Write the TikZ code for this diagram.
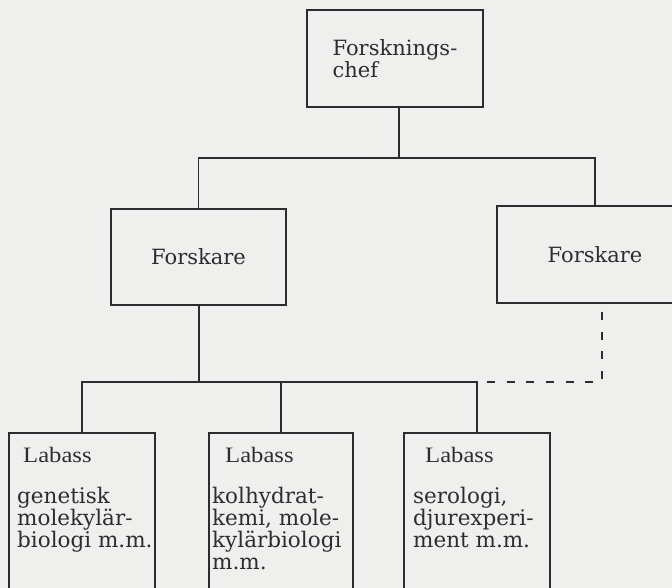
\documentclass[tikz,border=0pt]{standalone}
\usepackage{xcolor}
\usepackage{fontspec}
\setmainfont{DejaVu Serif}
\newfontfamily\labfont[FakeStretch=1.12]{Liberation Serif}
\usepackage{tikz}

\definecolor{paper}{RGB}{239,239,237}
\definecolor{ink}{RGB}{48,44,46}

\begin{document}
\begin{tikzpicture}[x=1pt,y=-1pt,
    unit/.style={draw=ink,text=ink,line width=1.8pt,shape=rectangle,inner sep=0pt,font=\fontsize{21}{22}\selectfont},
    lab/.style={draw=ink,line width=1.8pt,shape=rectangle,minimum height=220,inner sep=0pt},
    labhead/.style={text=ink,inner sep=0pt,anchor=base west,font=\labfont\fontsize{22}{22}\selectfont},
    labtext/.style={text=ink,inner sep=0pt,anchor=north west,align=left,font=\fontsize{21.5}{22}\selectfont},
    link/.style={draw=ink,line width=1.8pt},
    loose/.style={draw=ink,line width=1.8pt,dash pattern=on 8pt off 11.7pt,dash phase=11.7pt}]
                    \fill[paper] (0,0) rectangle (672,588);
                    \clip (0,0) rectangle (672,588);
                    \node[unit,align=left,minimum width=176,minimum height=97] (chef) at (395,58.5) {Forsknings-\\chef};
                    \node[unit,minimum width=175,minimum height=96] (FL) at (198.5,257) {Forskare};
                    \node[unit,minimum width=196,minimum height=97] (FR) at (595,254.5) {Forskare};
                    \node[lab,minimum width=146] (L1) at (82,543) {};
                    \node[lab,minimum width=144] (L2) at (281,543) {};
                    \node[lab,minimum width=146] (L3) at (477,543) {};

                    \node[labhead] (H1) at (23,462) {Labass};
                    \node[labhead] (H2) at (225,462) {Labass};
                    \node[labhead] (H3) at (425,462) {Labass};
                    \node[labtext] (B1) at (17,487) {genetisk\\molekylär-\\biologi m.m.};
                    \node[labtext] (B2) at (212,487) {kolhydrat-\\kemi, mole-\\kylärbiologi\\m.m.};
                    \node[labtext] (B3) at (413,487) {serologi,\\djurexperi-\\ment m.m.};

                    \coordinate (tbus) at (399,158);
                    \coordinate (lbus) at (199,382);
                    \coordinate (dcorner) at (602,382);

                    \draw[link] (chef.south -| tbus) -- (tbus);
                    \draw[link] (FL.north) |- (tbus);
                    \draw[link] (FR.north) |- (tbus);
                    \draw[link] (FL.south -| lbus) -- (lbus);
                    \draw[link] (L1.north) |- (lbus);
                    \draw[link] (L3.north) |- (lbus);
                    \draw[link] (L2.north) -- (L2.north |- lbus);
                    \draw[loose] (FR.south -| dcorner) -- (dcorner) -- (L3.north |- lbus);
                \end{tikzpicture}
\end{document}
